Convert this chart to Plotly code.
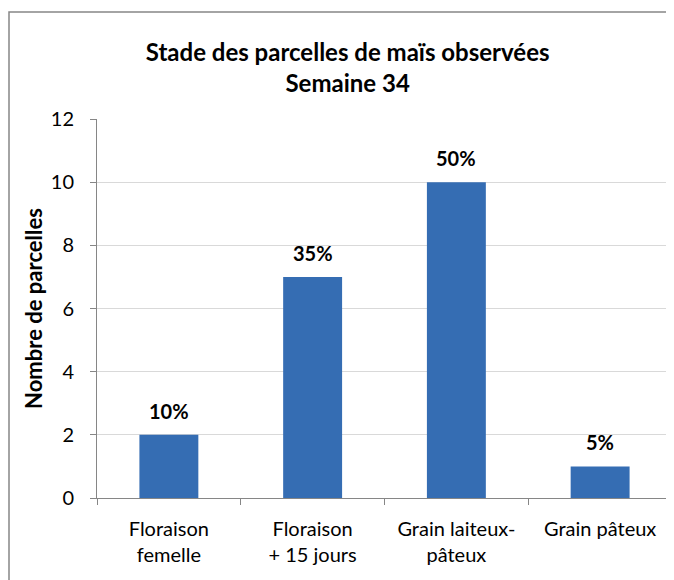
import plotly.graph_objects as go

categories = ["Floraison<br>femelle", "Floraison<br>+ 15 jours", "Grain laiteux-<br>pâteux", "Grain pâteux"]
counts = [2, 7, 10, 1]
pct_labels = ["10%", "35%", "50%", "5%"]

FONT = "Lato, 'Open Sans', sans-serif"

fig = go.Figure()
fig.add_trace(go.Bar(
    x=categories, y=counts,
    marker=dict(color="#356db3", line=dict(width=0)),
    width=0.41,
))

annotations = [
    dict(x=c, y=v, text=f"<b>{t}</b>", showarrow=False, xref="x", yref="y",
         yanchor="bottom", yshift=10,
         font=dict(family=FONT, size=20, color="black"))
    for c, v, t in zip(categories, counts, pct_labels)
]

fig.update_layout(
    width=666, height=572,
    margin=dict(l=89, r=2, t=111, b=82),
    paper_bgcolor="white", plot_bgcolor="white",
    showlegend=False,
    annotations=annotations,
    title=dict(
        text="<b>Stade des parcelles de maïs observées<br>Semaine 34</b>",
        x=0.51, xanchor="center", y=0.908, yanchor="middle",
        font=dict(family=FONT, size=24, color="black"),
    ),
    xaxis=dict(
        type="category", tickson="boundaries", ticks="outside", ticklen=6,
        tickcolor="#868686", showline=True, linecolor="#868686", linewidth=1,
        tickfont=dict(family=FONT, size=20, color="black"), showgrid=False,
        ticklabelstandoff=13,
    ),
    yaxis=dict(
        range=[0, 12], dtick=2, ticks="outside", ticklen=6, tickcolor="#868686",
        showline=True, linecolor="#868686", linewidth=1,
        gridcolor="#d9d9d9", gridwidth=1, zeroline=False,
        tickfont=dict(family=FONT, size=20, color="black"),
        ticklabelstandoff=12,
        title=dict(text="<b>Nombre de parcelles</b>", standoff=2,
                   font=dict(family=FONT, size=22, color="black")),
    ),
    shapes=[dict(type="rect", xref="paper", yref="paper",
                 x0=(1 - 89) / 575, x1=(720 - 89) / 575,
                 y0=(490 - 620) / 379, y1=(490 - 4) / 379,
                 line=dict(color="#868686", width=1.5), fillcolor="rgba(0,0,0,0)", layer="below")],
)

fig.write_html("out.html")
